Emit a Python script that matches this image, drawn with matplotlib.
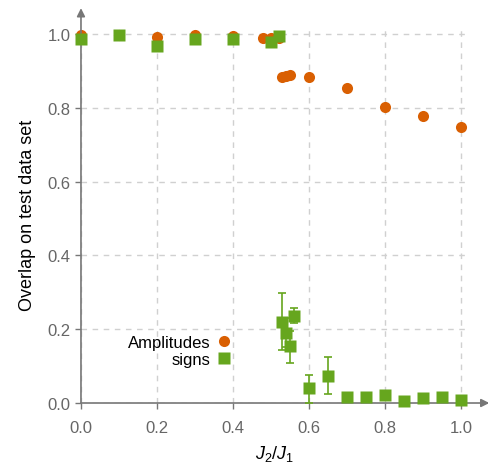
import numpy as np
import matplotlib.pyplot as plt
from matplotlib.lines import Line2D

plt.rcParams['font.family'] = ['Liberation Sans', 'DejaVu Sans']
plt.rcParams['mathtext.fontset'] = 'custom'
plt.rcParams['mathtext.it'] = 'Liberation Sans:italic'
plt.rcParams['mathtext.rm'] = 'Liberation Sans'

# amplitudes (orange circles)
amp_x = [0.0, 0.1, 0.2, 0.3, 0.4, 0.48, 0.5, 0.52, 0.53, 0.54, 0.55, 0.6, 0.7, 0.8, 0.9, 1.0]
amp_y = [0.998, 0.996, 0.993, 0.996, 0.994, 0.989, 0.99, 0.989, 0.884, 0.887, 0.888,
         0.884, 0.854, 0.803, 0.778, 0.747]

# signs (green squares) with error bars
sgn_x = [0.0, 0.1, 0.2, 0.3, 0.4, 0.5, 0.52, 0.53, 0.54, 0.55, 0.56, 0.6, 0.65,
         0.7, 0.75, 0.8, 0.85, 0.9, 0.95, 1.0]
sgn_y = [0.986, 0.998, 0.968, 0.986, 0.986, 0.977, 0.994, 0.220, 0.191, 0.155, 0.237,
         0.040, 0.074, 0.015, 0.015, 0.022, 0.006, 0.013, 0.017, 0.009]
sgn_err_lo = [0, 0, 0, 0, 0, 0, 0, 0.076, 0.04, 0.046, 0.019, 0.040, 0.050,
              0, 0, 0, 0, 0, 0, 0]
sgn_err_hi = [0, 0, 0, 0, 0, 0, 0, 0.078, 0.04, 0.04, 0.020, 0.036, 0.051,
              0, 0, 0, 0, 0, 0, 0]

orange = '#D95F02'
green = '#66A61E'
axcol = '#777777'

fig = plt.figure(figsize=(4.89, 4.64), dpi=100)
ax = fig.add_axes([0.1656, 0.1293, 0.7924, 0.8112])

ax.plot(amp_x, amp_y, 'o', color=orange, ms=8, mec='none', clip_on=False, zorder=3)
ax.errorbar(sgn_x, sgn_y, yerr=[sgn_err_lo, sgn_err_hi], fmt='s', color=green,
            ms=8, mec='none', ecolor=green, elinewidth=1.2, capsize=3,
            capthick=1.2, clip_on=False, zorder=4)

ax.set_xlim(0, 1.02)
ax.set_ylim(0, 1.02)
ticks = [0.0, 0.2, 0.4, 0.6, 0.8, 1.0]
ax.set_xticks(ticks)
ax.set_yticks(ticks)
ax.set_xticklabels([f'{t:.1f}' for t in ticks])
ax.set_yticklabels([f'{t:.1f}' for t in ticks])
ax.tick_params(colors=axcol, labelcolor='#666666', labelsize=12, length=4, width=1)
ax.tick_params(axis='x', pad=8)

ax.grid(True, color='#d0d0d0', linestyle=(0, (4, 4)), linewidth=1)
ax.set_axisbelow(True)

for s in ['top', 'right', 'left', 'bottom']:
    ax.spines[s].set_visible(False)

# axes with arrow heads
ax.annotate('', xy=(1.075, 0), xytext=(0, 0), xycoords='data',
            arrowprops=dict(arrowstyle='-|>', color=axcol, lw=1.2, mutation_scale=12,
                            shrinkA=0, shrinkB=0), annotation_clip=False)
ax.annotate('', xy=(0, 1.07), xytext=(0, 0), xycoords='data',
            arrowprops=dict(arrowstyle='-|>', color=axcol, lw=1.2, mutation_scale=12,
                            shrinkA=0, shrinkB=0), annotation_clip=False)

ax.set_xlabel(r'$J_2/J_1$', fontsize=13, labelpad=6)
ax.set_ylabel('Overlap on test data set', fontsize=13, labelpad=8)

handles = [Line2D([], [], ls='none', marker='o', color=orange, mec='none', ms=8),
           Line2D([], [], ls='none', marker='s', color=green, mec='none', ms=8)]
ax.legend(handles, ['Amplitudes', 'signs'], loc='upper right',
          bbox_to_anchor=(0.39, 0.18), markerfirst=False, frameon=False,
          fontsize=12, handletextpad=0.3, labelspacing=0.1, handlelength=1.0,
          borderpad=0, borderaxespad=0)

fig.savefig('out.png', dpi=100)
